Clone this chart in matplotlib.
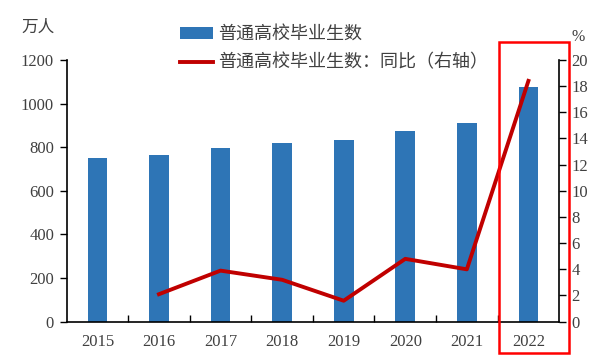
import matplotlib
matplotlib.use("Agg")
import matplotlib.pyplot as plt
import numpy as np
from matplotlib.patches import Rectangle

plt.rcParams["font.family"] = ["Liberation Serif", "Noto Sans CJK SC"]

years = ["2015", "2016", "2017", "2018", "2019", "2020", "2021", "2022"]
grads = [749, 765, 795, 820, 834, 874, 909, 1076]          # 万人
yoy_years = ["2016", "2017", "2018", "2019", "2020", "2021", "2022"]
yoy = [2.1, 3.9, 3.2, 1.6, 4.8, 4.0, 18.4]                  # %

BLUE = "#2E75B6"
DARKRED = "#C00000"
TXT = "#404040"

fig = plt.figure(figsize=(6, 3.59), dpi=100)
ax = fig.add_axes([0.111, 0.104, 0.821, 0.729])
x = np.arange(len(years))
bars = ax.bar(x, grads, width=0.32, color=BLUE, label="普通高校毕业生数")
ax.set_xlim(-0.5, len(years) - 0.5)
ax.set_ylim(0, 1200)
ax.set_yticks(np.arange(0, 1201, 200))
ax.set_xticks(x)
ax.set_xticklabels(years)
ax.set_xticks(np.arange(0.5, len(years) - 1, 1), minor=True)
ax.tick_params(axis="x", which="major", length=0, pad=9, labelsize=12, labelcolor=TXT)
ax.tick_params(axis="x", which="minor", direction="in", length=5, width=1)
ax.tick_params(axis="y", direction="out", length=5, width=1, labelsize=12, labelcolor=TXT, pad=4)
for s in ["top", "right"]:
    ax.spines[s].set_visible(False)
ax.spines["left"].set_linewidth(1.2)
ax.spines["bottom"].set_linewidth(1.2)

ax2 = ax.twinx()
xi = [years.index(y) for y in yoy_years]
line, = ax2.plot(xi, yoy, color=DARKRED, lw=2.8, label="普通高校毕业生数：同比（右轴）")
ax2.set_ylim(0, 20)
ax2.set_yticks(np.arange(0, 21, 2))
ax2.tick_params(axis="y", direction="out", length=5, width=1, labelsize=12, labelcolor=TXT, pad=4)
for s in ["top", "left", "bottom"]:
    ax2.spines[s].set_visible(False)
ax2.spines["right"].set_linewidth(1.2)

fig.text(0.035, 0.922, "万人", fontsize=12, color=TXT, va="center")
fig.text(0.953, 0.897, "%", fontsize=11.5, color=TXT, va="center")

fig.legend(handles=[bars, line], loc="upper left", bbox_to_anchor=(0.273, 0.972),
           frameon=False, fontsize=13, handlelength=1.8, handleheight=0.6,
           labelspacing=0.6, handletextpad=0.3, labelcolor=TXT)

# red highlight box around 2022
fig.add_artist(Rectangle((499 / 600, 1 - 353 / 359), 70 / 600, 311 / 359,
                         transform=fig.transFigure, fill=False, ec="#FF0000", lw=1.8))

fig.savefig("out.png")
